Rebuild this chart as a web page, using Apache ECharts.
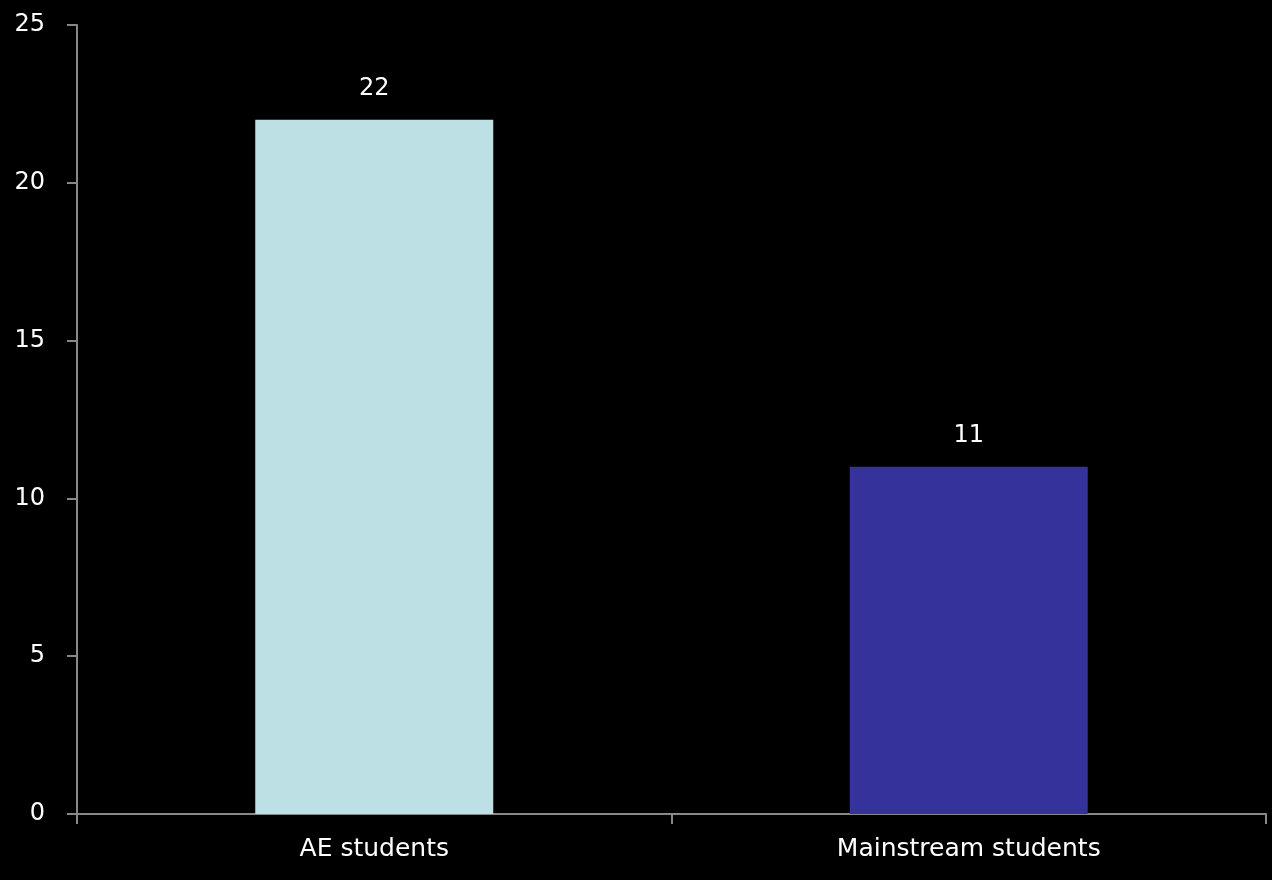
<!DOCTYPE html>
<html><head><meta charset="utf-8">
<script src="https://cdn.jsdelivr.net/npm/echarts@6/dist/echarts.min.js"></script>
<style>html,body{margin:0;padding:0;background:#000;}#c{width:1272px;height:880px;}</style>
</head><body><div id="c"></div>
<script>
const categories = ['AE students', 'Mainstream students'];
const values = [22, 11];
const colors = ['#BCE0E3', '#35339B'];
const yTicks = [0, 5, 10, 15, 20, 25];

const chart = echarts.init(document.getElementById('c'));
const font = '"DejaVu Sans", sans-serif';
chart.setOption({
  backgroundColor: '#000000',
  animation: false,
  grid: { left: 77, right: 6, top: 25, bottom: 66, containLabel: false },
  xAxis: {
    type: 'category',
    data: categories,
    axisLine: { lineStyle: { color: '#888888', width: 2 } },
    axisTick: { show: true, length: 10, lineStyle: { color: '#888888', width: 2 } },
    axisLabel: { color: '#ffffff', fontSize: 25, fontFamily: font, margin: 23 }
  },
  yAxis: {
    type: 'value',
    min: yTicks[0], max: yTicks[yTicks.length - 1], interval: 5,
    splitLine: { show: false },
    axisLine: { show: true, lineStyle: { color: '#888888', width: 2 } },
    axisTick: { show: true, length: 10, lineStyle: { color: '#888888', width: 2 } },
    axisLabel: { color: '#ffffff', fontSize: 24, fontFamily: font, margin: 32 }
  },
  series: [{
    type: 'bar',
    barWidth: 238,
    data: values.map((v, i) => ({ value: v, itemStyle: { color: colors[i] } })),
    label: { show: true, position: 'top', distance: 19, color: '#ffffff', fontSize: 24, fontFamily: font }
  }]
});
</script></body></html>
